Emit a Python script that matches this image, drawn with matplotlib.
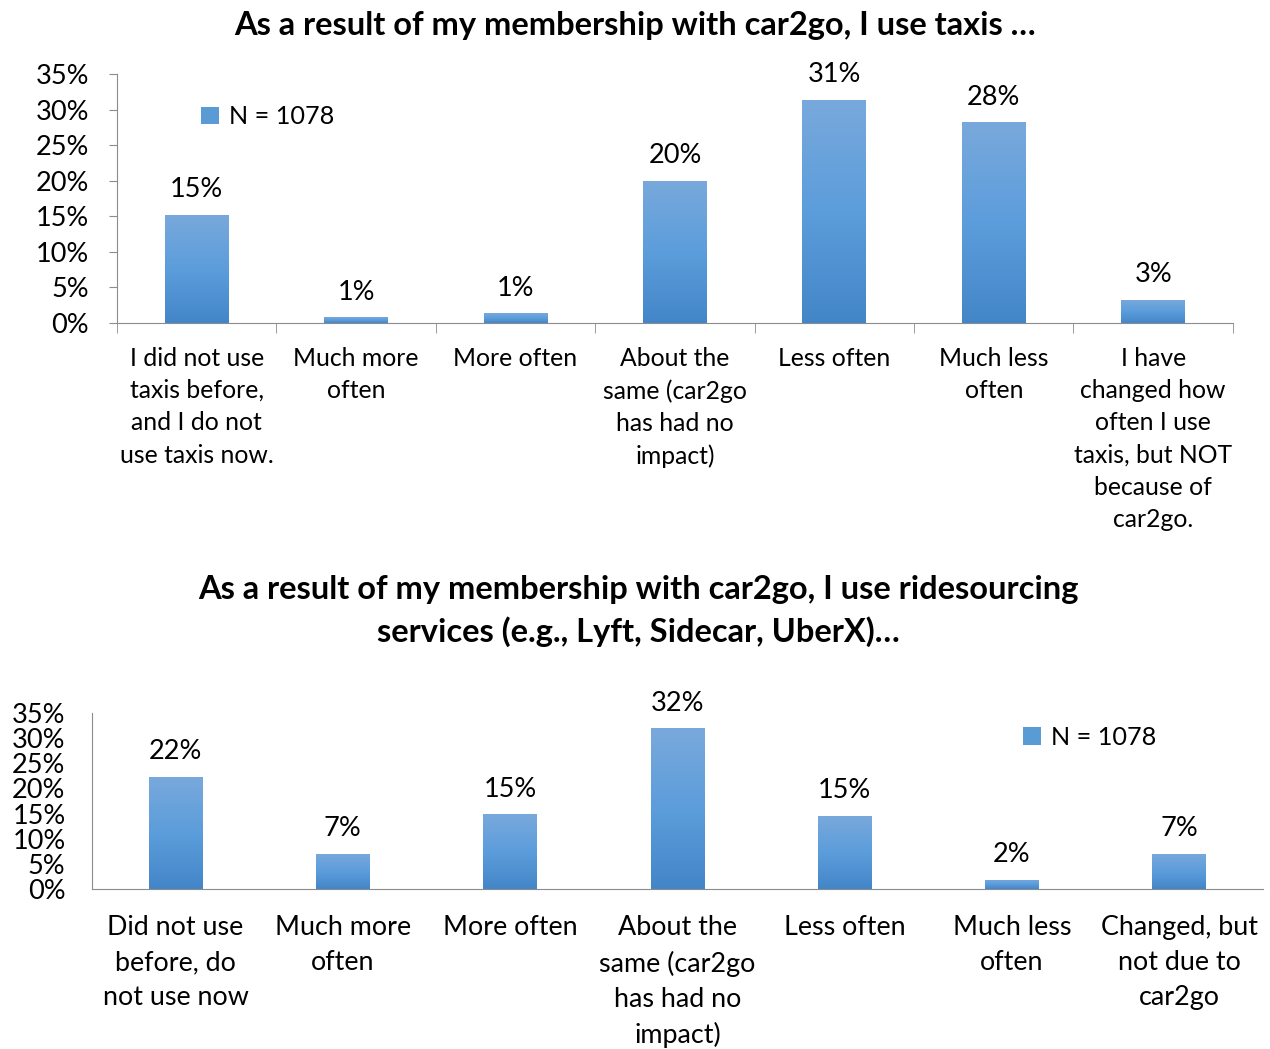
import numpy as np
import matplotlib.pyplot as plt
from matplotlib.ticker import MultipleLocator, FuncFormatter, FixedLocator
from matplotlib.colors import LinearSegmentedColormap

plt.rcParams['font.family'] = ['Lato', 'DejaVu Sans']

# top chart: taxis
taxi_cats = ["I did not use\ntaxis before,\nand I do not\nuse taxis now.",
             "Much more\noften", "More often",
             "About the\nsame (car2go\nhas had no\nimpact)",
             "Less often", "Much less\noften",
             "I have\nchanged how\noften I use\ntaxis, but NOT\nbecause of\ncar2go."]
taxi_vals = [15.2, 0.8, 1.4, 20.0, 31.4, 28.2, 3.3]

# bottom chart: ridesourcing
ride_cats = ["Did not use\nbefore, do\nnot use now", "Much more\noften",
             "More often", "About the\nsame (car2go\nhas had no\nimpact)",
             "Less often", "Much less\noften", "Changed, but\nnot due to\ncar2go"]
ride_vals = [22.3, 7.0, 14.9, 32.0, 14.6, 1.8, 7.0]

top_color = "#79a9dc"
bot_color = "#4386c8"
axis_gray = "#8c8c8c"

grad = np.linspace(0, 1, 256).reshape(-1, 1)
cmap = LinearSegmentedColormap.from_list("bar", [bot_color, "#5c9ddb", top_color])


def gradient_bars(ax, vals, width):
    x = np.arange(len(vals))
    bars = ax.bar(x, vals, width=width, color="#5b9bd5", zorder=2)
    for b in bars:
        x0, y0 = b.get_x(), b.get_y()
        im = ax.imshow(grad, extent=(x0, x0 + b.get_width(), y0, y0 + b.get_height()),
                       origin="lower", cmap=cmap, aspect="auto", zorder=3)
        im.set_clip_path(b)
    return bars


fig = plt.figure(figsize=(12.7, 10.49), dpi=100)

# ---- top ----
ax1 = fig.add_axes([0.0921, 0.6921, 0.8787, 0.2374])
bars = gradient_bars(ax1, taxi_vals, 0.4)
ax1.set_xlim(-0.5, len(taxi_vals) - 0.5)
ax1.set_ylim(0, 35)
ax1.yaxis.set_major_locator(MultipleLocator(5))
ax1.yaxis.set_major_formatter(FuncFormatter(lambda v, p: f"{v:.0f}%"))
ax1.set_xticks(np.arange(len(taxi_cats)))
ax1.set_xticklabels(taxi_cats, fontsize=17.8, linespacing=1.49, va="top")
ax1.xaxis.set_minor_locator(FixedLocator(np.arange(len(taxi_cats) + 1) - 0.5))
ax1.tick_params(axis="x", which="major", length=0, pad=17)
ax1.tick_params(axis="x", which="minor", length=7, color=axis_gray)
ax1.tick_params(axis="y", length=6, color=axis_gray, labelsize=19.5, pad=14)
for s in ["top", "right"]:
    ax1.spines[s].set_visible(False)
for s in ["left", "bottom"]:
    ax1.spines[s].set_color(axis_gray)
for b, v in zip(bars, taxi_vals):
    ax1.annotate(f"{round(v):.0f}%", (b.get_x() + b.get_width() / 2, v),
                 xytext=(0, 9), textcoords="offset points",
                 ha="center", va="bottom", fontsize=19.5)
ax1.legend([bars[0]], ["N = 1078"], loc="upper left", bbox_to_anchor=(0.055, 0.965),
           frameon=False, fontsize=18.2, handlelength=0.7, handleheight=0.7,
           handletextpad=0.4)
fig.text(0.5, 1 - 26 / 1049, "As a result of my membership with car2go, I use taxis …",
         ha="center", va="center", fontsize=23.5, fontweight="bold")

# ---- bottom ----
ax2 = fig.add_axes([0.0724, 0.1525, 0.9220, 0.1678])
bars2 = gradient_bars(ax2, ride_vals, 0.32)
ax2.set_xlim(-0.5, len(ride_vals) - 0.5)
ax2.set_ylim(0, 35)
ax2.yaxis.set_major_locator(MultipleLocator(5))
ax2.yaxis.set_major_formatter(FuncFormatter(lambda v, p: f"{v:.0f}%"))
ax2.set_xticks(np.arange(len(ride_cats)))
ax2.set_xticklabels(ride_cats, fontsize=19.4, linespacing=1.49, va="top")
ax2.tick_params(axis="x", length=0, pad=19)
ax2.tick_params(axis="y", length=0, labelsize=19.5, pad=19)
for s in ["top", "right"]:
    ax2.spines[s].set_visible(False)
for s in ["left", "bottom"]:
    ax2.spines[s].set_color(axis_gray)
for b, v in zip(bars2, ride_vals):
    ax2.annotate(f"{round(v):.0f}%", (b.get_x() + b.get_width() / 2, v),
                 xytext=(0, 9), textcoords="offset points",
                 ha="center", va="bottom", fontsize=19.5)
ax2.legend([bars2[0]], ["N = 1078"], loc="upper left", bbox_to_anchor=(0.776, 1.055),
           frameon=False, fontsize=18.2, handlelength=0.7, handleheight=0.7,
           handletextpad=0.4)
fig.text(0.503, 1 - 611 / 1049,
         "As a result of my membership with car2go, I use ridesourcing\nservices (e.g., Lyft, Sidecar, UberX)…",
         ha="center", va="center", fontsize=23.5, fontweight="bold", linespacing=1.47)

fig.savefig("out.png", dpi=100)
